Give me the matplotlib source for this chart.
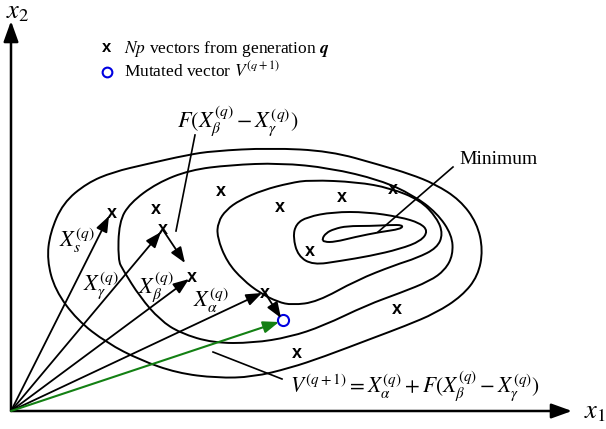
import numpy as np
import matplotlib
matplotlib.use('Agg')
import matplotlib.pyplot as plt
from matplotlib.path import Path
from matplotlib.patches import PathPatch

plt.rcParams['font.family'] = 'Liberation Serif'
plt.rcParams['mathtext.fontset'] = 'stix'

# diagram coordinates in pixels (y grows downward)
origin = (11, 411)

contour_outer = [(47, 260), (50, 233), (63, 203), (87, 183), (113, 172), (147, 164), (187, 155),
                 (213, 151), (270, 148), (330, 151), (380, 165), (410, 174), (435, 184), (460, 200),
                 (477, 223), (483, 250), (478, 276), (462, 296), (436, 313), (405, 326), (373, 338),
                 (323, 357), (290, 368), (253, 377), (217, 378), (177, 373), (140, 360), (107, 343),
                 (77, 320), (55, 290)]
contour_2 = [(118, 260), (119, 222), (130, 203), (157, 183), (190, 170), (230, 165), (280, 163),
             (330, 168), (380, 180), (413, 195), (437, 213), (452, 235), (453, 255), (445, 270),
             (430, 281), (400, 293), (367, 305), (323, 326), (290, 337), (253, 343), (213, 343),
             (180, 333), (160, 320), (140, 297), (123, 270)]
contour_3 = [(217, 237), (218, 222), (226, 210), (240, 200), (263, 190), (290, 183), (310, 180),
             (357, 182), (390, 188), (420, 200), (437, 218), (443, 234), (437, 248), (417, 258),
             (395, 265), (357, 280), (317, 302), (292, 305), (278, 302), (260, 293), (243, 280),
             (227, 262)]
contour_4 = [(293, 237), (296, 224), (307, 217), (333, 212), (367, 212), (400, 217), (420, 223),
             (428, 231), (421, 241), (400, 249), (370, 256), (340, 261), (313, 265), (298, 256)]
contour_min = [(322, 239), (326, 233), (334, 229), (347, 226), (370, 226), (390, 225), (403, 225),
               (401, 229), (380, 232), (355, 237), (335, 242), (324, 242)]
contours = [contour_outer, contour_2, contour_3, contour_4, contour_min]

# population members
pop_x = [112, 156, 163, 192, 221, 280, 342, 393, 310, 265, 397, 297]
pop_y = [213, 210, 230, 277, 191, 208, 198, 190, 252, 293, 310, 354]

# vectors from origin
vec_tips = {'s': (109, 216), 'gamma': (161, 232), 'beta': (189, 279), 'alpha': (262, 293)}
mutant = (283, 320)
diff_arrows = [((163, 230), (185, 263)), ((265, 293), (281, 318))]

fig = plt.figure(figsize=(6.06, 4.29), dpi=100)
ax = fig.add_axes([0, 0, 1, 1])
ax.set_xlim(0, 606)
ax.set_ylim(429, 0)
ax.axis('off')


def smooth_closed(pts):
    pts = np.asarray(pts, float)
    mids = (pts + np.roll(pts, -1, axis=0)) / 2
    verts = [mids[-1]]
    codes = [Path.MOVETO]
    for p, m in zip(pts, mids):
        verts += [p, m]
        codes += [Path.CURVE3, Path.CURVE3]
    return Path(verts, codes)


for c in contours:
    ax.add_patch(PathPatch(smooth_closed(c), fill=False, lw=1.4, ec='black'))

# axes with arrows
ax_style = '-|>,head_length=1.25,head_width=0.45'
ax.annotate('', xy=(572, origin[1]), xytext=origin,
            arrowprops=dict(arrowstyle=ax_style, color='black', lw=1.8, mutation_scale=10,
                            shrinkA=0, shrinkB=0))
ax.annotate('', xy=(origin[0], 21), xytext=origin,
            arrowprops=dict(arrowstyle=ax_style, color='black', lw=1.8, mutation_scale=10,
                            shrinkA=0, shrinkB=0))
ax.text(584, 418, '$x_1$', fontsize=19, ha='left', va='baseline')
ax.text(6, 18, '$x_2$', fontsize=19, ha='left', va='baseline')

arr = '-|>,head_length=0.95,head_width=0.36'
for key, tip in vec_tips.items():
    ax.annotate('', xy=tip, xytext=origin,
                arrowprops=dict(arrowstyle=arr, color='black', lw=1.3, mutation_scale=10,
                                shrinkA=0, shrinkB=0))
ax.annotate('', xy=(279, 322), xytext=origin,
            arrowprops=dict(arrowstyle=arr, color='#138013', lw=1.5, mutation_scale=10,
                            shrinkA=0, shrinkB=0))
for start, end in diff_arrows:
    ax.annotate('', xy=end, xytext=start,
                arrowprops=dict(arrowstyle=arr, color='black', lw=1.3, mutation_scale=10,
                                shrinkA=0, shrinkB=0))

for x, y in zip(pop_x, pop_y):
    ax.text(x, y, 'x', family='Liberation Sans', fontweight='bold', fontsize=13,
            ha='center', va='center')
ax.plot(*mutant, marker='o', ms=8, mfc='none', mec='#0000e0', mew=1.5)

# vector labels
ax.text(59, 247, r'$X_s^{(q)}$', fontsize=16)
ax.text(83, 290, r'$X_\gamma^{(q)}$', fontsize=16)
ax.text(138, 293, r'$X_\beta^{(q)}$', fontsize=16)
ax.text(193, 307, r'$X_\alpha^{(q)}$', fontsize=16)

# annotations
ax.text(177, 127, r'$F(X_\beta^{(q)} - X_\gamma^{(q)})$', fontsize=16)
ax.plot([195, 176], [135, 231], color='black', lw=1.2)
ax.text(459, 164, 'Minimum', fontsize=14)
ax.plot([453, 378], [167, 232], color='black', lw=1.2)
ax.text(290, 392, r'$V^{(q+1)} = X_\alpha^{(q)} + F(X_\beta^{(q)} - X_\gamma^{(q)})$', fontsize=15.5)
ax.plot([213, 282], [352, 379], color='black', lw=1.2)

# legend
ax.text(107, 48, 'x', family='Liberation Sans', fontweight='bold', fontsize=12,
        ha='center', va='center')
ax.text(124, 53, r'$\mathit{Np}$ vectors from generation $\mathbfit{q}$', fontsize=12.5)
ax.plot(107, 72, marker='o', ms=7, mfc='none', mec='#0000e0', mew=1.5)
ax.text(124, 77, r'Mutated vector $V^{(q+1)}$', fontsize=12.5)

fig.savefig('out.png', dpi=100)
